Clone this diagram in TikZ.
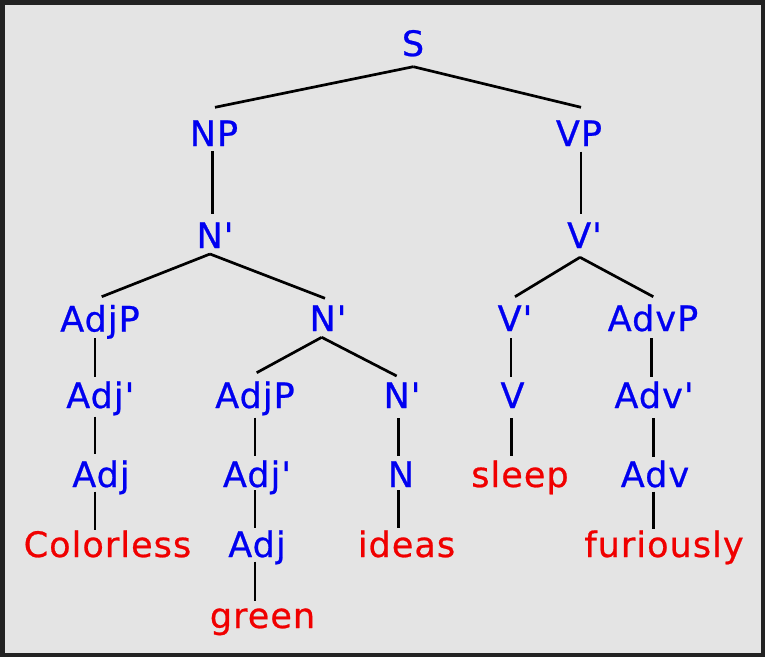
\documentclass[tikz,border=0pt]{standalone}
\usepackage{fontspec}
\setmainfont{DejaVu Sans}[Ligatures=TeXOff,LetterSpace=3,FakeBold=0.7]
\newcommand{\pr}{'}
\definecolor{bgc}{RGB}{228,228,228}
\definecolor{frc}{RGB}{34,34,34}
\definecolor{catc}{RGB}{0,0,240}
\definecolor{wrdc}{RGB}{240,0,0}
\tikzset{
  cat/.style={anchor=base,inner sep=0pt,text=catc,font=\fontsize{35}{40}\selectfont},
  wrd/.style={anchor=base,inner sep=0pt,text=wrdc,font=\fontsize{35}{40}\selectfont},
  edge/.style={draw=black,line width=2.7pt}
}
\begin{document}
\begin{tikzpicture}[x=1pt,y=-1pt]
\fill[frc] (0,0) rectangle (765,657);
\fill[bgc] (4.5,4.5) rectangle (760.5,652.5);
\useasboundingbox (0,0) rectangle (765,657);
% nodes
\node[cat] (S) at (413,56) {S};
\node[cat] (NP) at (214,146) {NP};
\node[cat] (VP) at (579,146) {VP};
\node[cat] (Nb1) at (215,248) {N\pr};
\node[cat] (Vb1) at (584.5,248) {V\pr};
\node[cat] (AdjP1) at (100,331.5) {AdjP};
\node[cat] (Nb2) at (328,331) {N\pr};
\node[cat] (Vb2) at (515,331) {V\pr};
\node[cat] (AdvP) at (653,331) {AdvP};
\node[cat] (Adjb1) at (100.3,408) {Adj\pr};
\node[cat] (AdjP2) at (255,408) {AdjP};
\node[cat] (Nb3) at (402,408) {N\pr};
\node[cat] (V) at (512.5,408) {V};
\node[cat] (Advb) at (654,408) {Adv\pr};
\node[cat] (Adj1) at (101,487) {Adj};
\node[cat] (Adjb2) at (257,487) {Adj\pr};
\node[cat] (N) at (401,487) {N};
\node[wrd] (sleep) at (520,487) {sleep};
\node[cat] (Adv) at (655,487) {Adv};
\node[wrd] (colorless) at (107.5,557) {Colorless};
\node[cat] (Adj2) at (257,557) {Adj};
\node[wrd] (ideas) at (406.5,557) {ideas};
\node[wrd] (furiously) at (664,557) {furiously};
\node[wrd] (green) at (262.5,628) {green};
% connectors
\draw[edge] ([shift={(0.3,10.7)}]S.base) -- ([shift={(1,-38.7)}]NP.base);
\draw[edge] ([shift={(0.3,10.7)}]S.base) -- ([shift={(2,-38.7)}]VP.base);
\draw[edge] ([shift={(-1.7,5)}]NP.base) -- ([shift={(-2.7,-33.7)}]Nb1.base);
\draw[edge] ([shift={(2,5.7)}]VP.base) -- ([shift={(-3.5,-33.7)}]Vb1.base);
\draw[edge] ([shift={(-5,6)}]Nb1.base) -- ([shift={(1.7,-34.8)}]AdjP1.base);
\draw[edge] ([shift={(-5,6)}]Nb1.base) -- ([shift={(-3,-32.7)}]Nb2.base);
\draw[edge] ([shift={(-4.5,9.3)}]Vb1.base) -- ([shift={(0,-34.3)}]Vb2.base);
\draw[edge] ([shift={(-4.5,9.3)}]Vb1.base) -- ([shift={(0.3,-34.3)}]AdvP.base);
\draw[edge] ([shift={(-5,6.5)}]AdjP1.base) -- ([shift={(-5.3,-31.3)}]Adjb1.base);
\draw[edge] ([shift={(-6.3,6.3)}]Nb2.base) -- ([shift={(1.7,-35.3)}]AdjP2.base);
\draw[edge] ([shift={(-6.3,6.3)}]Nb2.base) -- ([shift={(-5.3,-32)}]Nb3.base);
\draw[edge] ([shift={(-4,7)}]Vb2.base) -- ([shift={(-1.5,-31.3)}]V.base);
\draw[edge] ([shift={(-1.3,7)}]AdvP.base) -- ([shift={(-2.3,-31.3)}]Advb.base);
\draw[edge] ([shift={(-5.3,8.7)}]Adjb1.base) -- ([shift={(-6,-32.7)}]Adj1.base);
\draw[edge] ([shift={(0,9.7)}]AdjP2.base) -- ([shift={(-2,-31)}]Adjb2.base);
\draw[edge] ([shift={(-3.7,10)}]Nb3.base) -- ([shift={(-2.7,-31)}]N.base);
\draw[edge] ([shift={(-0.8,10)}]V.base) -- ([shift={(-8.3,-31)}]sleep.base);
\draw[edge] ([shift={(-0.7,10)}]Advb.base) -- ([shift={(-1.7,-30.3)}]Adv.base);
\draw[edge] ([shift={(-6,4.7)}]Adj1.base) -- ([shift={(-12.5,-27)}]colorless.base);
\draw[edge] ([shift={(-2,3)}]Adjb2.base) -- ([shift={(-2,-28.7)}]Adj2.base);
\draw[edge] ([shift={(-2.7,3)}]N.base) -- ([shift={(-8.2,-29)}]ideas.base);
\draw[edge] ([shift={(-1.7,4.7)}]Adv.base) -- ([shift={(-10.7,-27.7)}]furiously.base);
\draw[edge] ([shift={(-2,4.7)}]Adj2.base) -- ([shift={(-7.5,-27.3)}]green.base);
\end{tikzpicture}
\end{document}
